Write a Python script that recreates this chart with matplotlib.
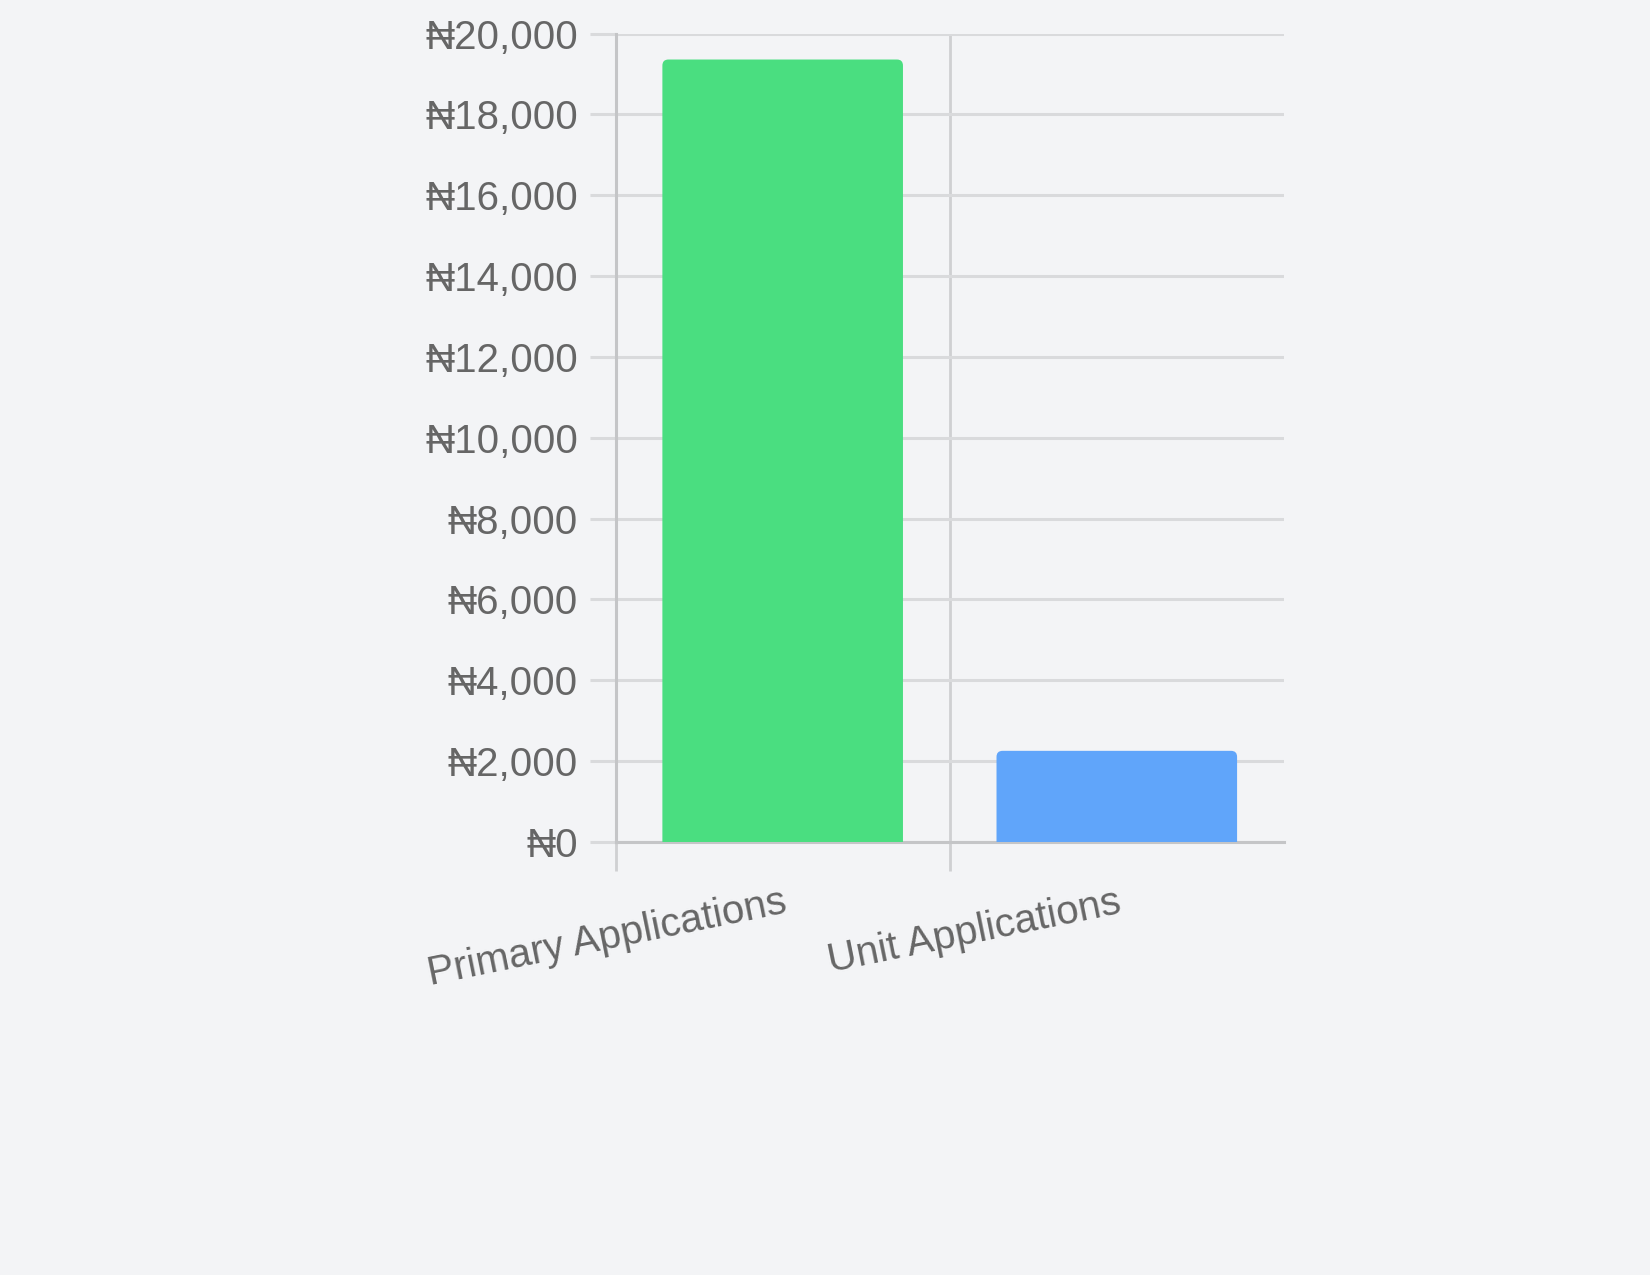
"""
Bar chart: application revenue by type (Naira).
"""
import matplotlib
matplotlib.use("Agg")
import matplotlib.pyplot as plt
import matplotlib.ticker as mticker
from matplotlib.patches import FancyBboxPatch

# data
categories = ["Primary Applications", "Unit Applications"]
amounts = [19360, 2250]
bar_colors = ["#4ade80", "#60a5fa"]
y_ticks = list(range(0, 20001, 2000))

BG = "#f3f4f6"
GRID = "#d9dadc"
VGRID = "#cfd0d2"
AXIS = "#c4c5c7"
TEXT = "#666666"
DPI = 100

plt.rcParams["font.family"] = ["Liberation Sans", "DejaVu Sans"]

fig = plt.figure(figsize=(16.5, 12.75), dpi=DPI)
fig.patch.set_facecolor(BG)
ax = fig.add_axes([0.3731, 0.3398, 0.405, 0.6338])
ax.set_facecolor(BG)

xs = list(range(len(categories)))
bars = ax.bar(xs, amounts, width=0.72, color=bar_colors, zorder=3)

# swap square bars for slightly rounded ones (chart.js borderRadius look)
px_x = 2.0 / (0.405 * 1650)
px_y = 20000 / (0.6338 * 1275)
r = 6 * px_x
aspect = px_y / px_x
for b in bars:
    b.set_visible(False)
    x0, w, h = b.get_x(), b.get_width(), b.get_height()
    p = FancyBboxPatch((x0, -r * aspect), w, h + r * aspect,
                       boxstyle=f"round,pad=0,rounding_size={r}",
                       mutation_aspect=aspect,
                       facecolor=b.get_facecolor(), edgecolor="none", zorder=3)
    ax.add_patch(p)

ax.set_xlim(-0.5, 1.5)
ax.set_ylim(0, 20000)

ax.yaxis.set_major_locator(mticker.FixedLocator(y_ticks))
ax.yaxis.set_major_formatter(mticker.FuncFormatter(lambda v, _: f"\u20a6{int(v):,}"))
ax.yaxis.grid(True, color=GRID, linewidth=2.2, zorder=1)
ax.tick_params(axis="y", length=19, width=2.2, color=GRID, pad=8,
               labelsize=29, labelcolor=TEXT)

# category labels at centres, grid/ticks at category boundaries
ax.set_xticks(xs)
ax.set_xticklabels(categories, rotation=11.5, ha="right", va="top",
                   rotation_mode="anchor")
ax.set_xticks([-0.5, 0.5], minor=True)
ax.xaxis.grid(True, which="minor", color=VGRID, linewidth=2.0, zorder=1)
ax.tick_params(axis="x", which="major", length=0, pad=30,
               labelsize=29, labelcolor=TEXT)
ax.tick_params(axis="x", which="minor", length=21, width=2.0, color=VGRID)

for s in ["top", "right"]:
    ax.spines[s].set_visible(False)
ax.spines["left"].set_color(AXIS)
ax.spines["bottom"].set_color(AXIS)
ax.spines["left"].set_linewidth(2.2)
ax.spines["bottom"].set_linewidth(2.2)

fig.savefig("out.png", dpi=DPI, facecolor=BG)
